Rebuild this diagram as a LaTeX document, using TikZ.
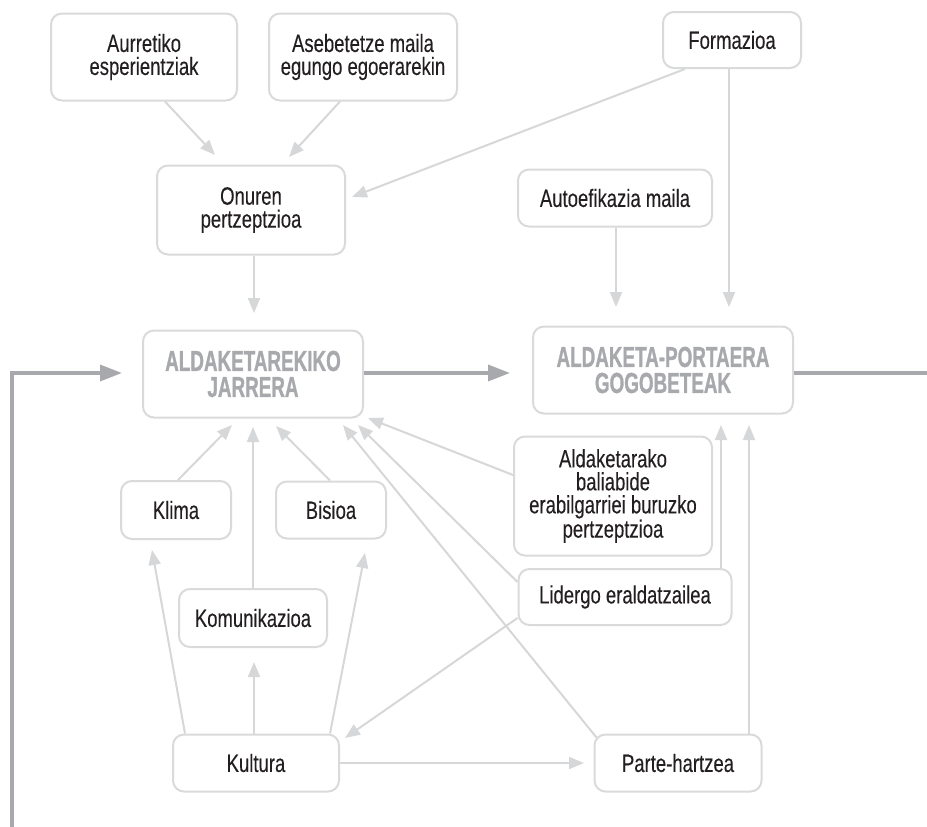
\documentclass[tikz,border=0pt]{standalone}
\usepackage{fontspec}
\setmainfont{Liberation Sans}[FakeStretch=0.74, FakeBold=0.2]
\newfontfamily\headfamily{Liberation Sans Bold}[FakeStretch=0.65, FakeBold=1]
\usepackage{xcolor,tikz}
\usetikzlibrary{calc,arrows.meta}
\definecolor{textDark}{HTML}{231F20}
\definecolor{boxGrey}{HTML}{D9DADB}
\definecolor{linkGrey}{HTML}{D6D7D8}
\definecolor{headGrey}{HTML}{A7A9AC}
\newcommand{\boxfont}{\fontsize{25}{23}\selectfont}
\newcommand{\headfont}{\headfamily\fontsize{29}{26}\selectfont}
\tikzset{
  model box/.style={
    draw=boxGrey, line width=2pt, rounded corners=11pt,
    align=center, text=textDark, font=\boxfont, inner sep=0pt,
  },
  head box/.style={model box, text=headGrey, font=\headfont},
  link arrow/.style={
    draw=linkGrey, line width=2pt,
    -{Triangle[length=15pt, width=12pt]},
  },
  main arrow/.style={
    draw=headGrey, line width=3.5pt,
    -{Triangle[length=22pt, width=16pt]},
  },
  main line/.style={draw=headGrey, line width=3.5pt},
}

\begin{document}
\begin{tikzpicture}[x=1pt, y=-1pt]
\useasboundingbox (0,0) rectangle (927,827);

% Boxes, top row
\node[model box, minimum width=186pt, minimum height=87pt] (aurretiko) at (144,57) {Aurretiko\\esperientziak};
\node[model box, minimum width=188pt, minimum height=87pt] (asebetetze) at (363,57) {Asebetetze maila\\egungo egoerarekin};
\node[model box, minimum width=138pt, minimum height=56pt] (formazioa) at (732,40) {Formazioa};
\node[model box, minimum width=188pt, minimum height=89pt] (onuren) at (251,210) {Onuren\\pertzeptzioa};
\node[model box, minimum width=194pt, minimum height=57pt] (autoefikazia) at (615,198) {Autoefikazia maila};

% Main boxes
\node[head box, minimum width=220pt, minimum height=87pt] (jarrera) at (253,374) {ALDAKETAREKIKO\\JARRERA};
\node[head box, minimum width=260pt, minimum height=87pt] (portaera) at (663,370) {ALDAKETA-PORTAERA\\GOGOBETEAK};

% Boxes, lower part
\node[model box, minimum width=198pt, minimum height=119pt] (baliabide) at (613,496) {Aldaketarako\\baliabide\\erabilgarriei buruzko\\pertzeptzioa};
\node[model box, minimum width=213pt, minimum height=56pt] (lidergo) at (625,597) {Lidergo eraldatzailea};
\node[model box, minimum width=110pt, minimum height=58pt] (klima) at (176,510) {Klima};
\node[model box, minimum width=110pt, minimum height=57pt] (bisioa) at (331,510) {Bisioa};
\node[model box, minimum width=148pt, minimum height=58pt] (komunikazioa) at (253,618) {Komunikazioa};
\node[model box, minimum width=166pt, minimum height=57pt] (kultura) at (256,763) {Kultura};
\node[model box, minimum width=167pt, minimum height=57pt] (parte) at (678,763) {Parte-hartzea};

% Arrow tips (they stop short of the boxes)
\coordinate (onA) at (215,155);
\coordinate (onS) at (289,157);
\coordinate (onF) at (352,197);
\coordinate (portF) at (729,307);
\coordinate (portA) at (616,307);
\coordinate (jarO) at (254,313);
\coordinate (jarK) at (232,425);
\coordinate (jarM) at (253,427);
\coordinate (jarB) at (276,426);
\coordinate (jarP) at (343,425);
\coordinate (jarL) at (358,425);
\coordinate (jarR) at (368,418);
\coordinate (portL) at (721,425);
\coordinate (portP) at (749,425);
\coordinate (klimaK) at (152,550);
\coordinate (bisioaK) at (365,553);
\coordinate (komK) at (254,662);
\coordinate (kulL) at (345,738);
\coordinate (parteK) at (584,763);
\coordinate (jarIn) at (122,373);
\coordinate (portIn) at (510,373);
\coordinate (fbStart) at (12,827);
\coordinate (outEnd) at (927,373);

% Thin links
\draw[link arrow] ([xshift=21pt]aurretiko.south) -- (onA);
\draw[link arrow] ([xshift=-23pt]asebetetze.south) -- (onS);
\draw[link arrow] ([xshift=-47pt]formazioa.south) -- (onF);
\draw[link arrow] (formazioa.south -| portF) -- (portF);
\draw[link arrow] (autoefikazia.south -| portA) -- (portA);
\draw[link arrow] (onuren.south -| jarO) -- (jarO);

\draw[link arrow] ([xshift=2pt]klima.north) -- (jarK);
\draw[link arrow] (komunikazioa.north -| jarM) -- (jarM);
\draw[link arrow] ([xshift=-1pt]bisioa.north) -- (jarB);
\draw[link arrow] ([yshift=21pt]baliabide.west) -- (jarR);
\draw[link arrow] ([yshift=15pt]lidergo.west) -- (jarL);
\draw[link arrow] ([xshift=3pt, yshift=-4pt]parte.north west) -- (jarP);
\draw[link arrow] (lidergo.north -| portL) -- (portL);
\draw[link arrow] (parte.north -| portP) -- (portP);

\draw[link arrow] ([xshift=13pt]kultura.north west) -- (klimaK);
\draw[link arrow] (kultura.north -| komK) -- (komK);
\draw[link arrow] ([xshift=-10pt]kultura.north east) -- (bisioaK);
\draw[link arrow] ([yshift=8pt]lidergo.south west) -- (kulL);
\draw[link arrow] (kultura.east) -- (parteK);

% Main flow and feedback
\draw[main arrow] (fbStart) |- (jarIn);
\draw[main arrow] (jarrera.east |- portIn) -- (portIn);
\draw[main line] (portaera.east |- outEnd) -- (outEnd);

\end{tikzpicture}
\end{document}
